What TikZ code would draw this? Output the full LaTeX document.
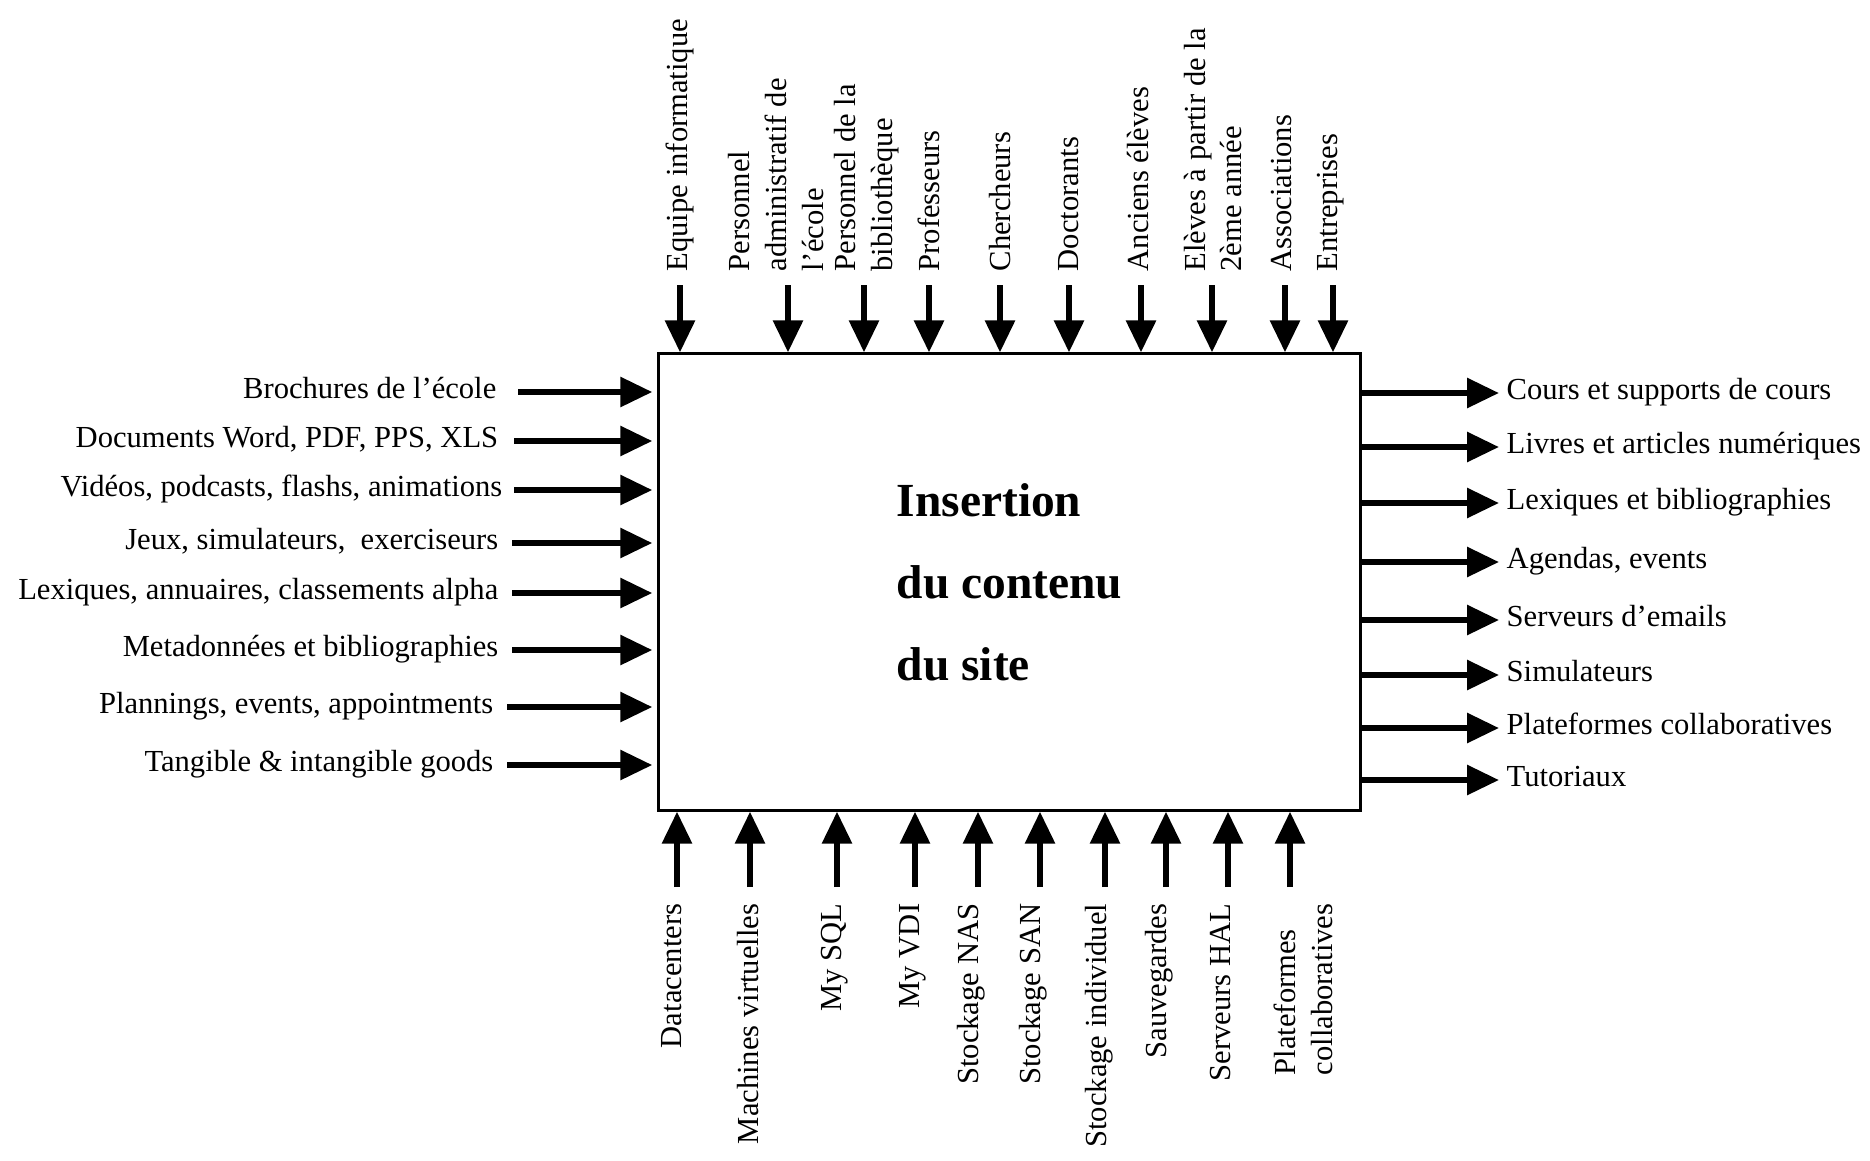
\documentclass[tikz,border=0pt]{standalone}
\usepackage{fontspec}
\setmainfont{Liberation Serif}
\usetikzlibrary{arrows.meta,positioning}

\tikzset{
  flow/.style={line width=0.06cm, -{Triangle[length=0.32cm,width=0.29cm]}},
  lbl/.style={inner sep=0pt, font=\fontsize{8.7}{10.5}\selectfont},
  sidelbl/.style={lbl, text height=6.1pt, text depth=2.6pt},
  uplbl/.style={lbl, rotate=90, align=left},
}

\begin{document}
\begin{tikzpicture}[x=0.01cm, y=-0.01cm]
    \useasboundingbox (0,0) rectangle (1870,1160);

    % the process box
    \node[draw, line width=0.03cm, minimum width=7.01cm, minimum height=4.56cm, inner sep=0pt,
          align=left, font=\fontsize{13.5}{23.3}\selectfont\bfseries] (box) at (1009.5,582)
          {Insertion\\du contenu\\du site};

    % actors (top)
    \foreach \ax/\lx/\txt [count=\idx] in {
        680/680/{Equipe informatique},
        788/776/{Personnel\\administratif de\\l’école},
        864/867/{Personnel de la\\bibliothèque},
        929/929/{Professeurs},
        1000/1000/{Chercheurs},
        1069/1069/{Doctorants},
        1141/1138/{Anciens élèves},
        1212/1213/{Elèves à partir de la\\2ème année},
        1285/1281/{Associations},
        1333/1331/{Entreprises}} {
        \coordinate (top\idx) at (\ax,285);
        \node[uplbl, anchor=west] (toplbl\idx) at (\lx,272) {\txt};
        \draw[flow] (top\idx) -- (top\idx |- box.north);
    }

    % resources (bottom)
    \foreach \ax/\lx/\txt [count=\idx] in {
        677/672/{Datacenters},
        750/748/{Machines virtuelles},
        837/835/{My SQL},
        915/913/{My VDI},
        978/971/{Stockage NAS},
        1040/1033/{Stockage SAN},
        1105/1099/{Stockage individuel},
        1166/1159/{Sauvegardes},
        1228/1221/{Serveurs HAL},
        1290/1303/{Plateformes\\collaboratives}} {
        \coordinate (bot\idx) at (\ax,887);
        \node[uplbl, anchor=east] (botlbl\idx) at (\lx,903) {\txt};
        \draw[flow] (bot\idx) -- (bot\idx |- box.south);
    }

    % inputs (left)
    \foreach \ax/\ay/\lx/\txt [count=\idx] in {
        518/392/497/{Brochures de l’école},
        514/441/499/{Documents Word, PDF, PPS, XLS},
        514/490/503/{Vidéos, podcasts, flashs, animations},
        512/543/499/{Jeux, simulateurs, \ exerciseurs},
        512/593/499/{Lexiques, annuaires, classements alpha},
        512/650/499/{Metadonnées et bibliographies},
        507/707/494/{Plannings, events, appointments},
        507/765/494/{Tangible \& intangible goods}} {
        \coordinate (in\idx) at (\ax,\ay);
        \node[sidelbl, anchor=east] (inlbl\idx) at (\lx,\ay) {\txt};
        \draw[flow, shorten >=0.05cm] (in\idx) -- (in\idx -| box.west);
    }

    % outputs (right)
    \foreach \ay/\txt [count=\idx] in {
        393/{Cours et supports de cours},
        447/{Livres et articles numériques},
        503/{Lexiques et bibliographies},
        562/{Agendas, events},
        620/{Serveurs d’emails},
        675/{Simulateurs},
        728/{Plateformes collaboratives},
        780/{Tutoriaux}} {
        \coordinate (out\idx) at (1499,\ay);
        \node[sidelbl, right=0.07cm of out\idx] (outlbl\idx) {\txt};
        \draw[flow] (out\idx -| box.east) -- (out\idx);
    }

\end{tikzpicture}
\end{document}
